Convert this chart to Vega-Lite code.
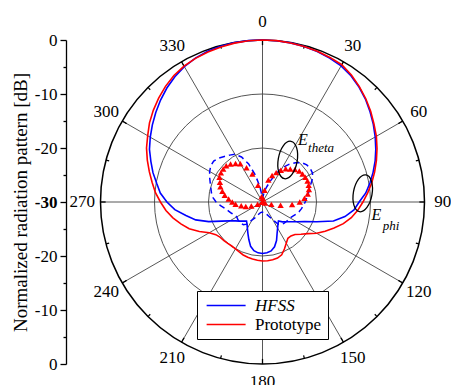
{
  "$schema": "https://vega.github.io/schema/vega-lite/v6.json",
  "width": 385,
  "height": 324,
  "autosize": {"type": "none"},
  "padding": {"left": 66, "top": 40, "right": 0, "bottom": 21},
  "background": "white",
  "config": {"view": {"stroke": null}, "font": "Liberation Serif"},
  "datasets": {
    "circles": [{"r": 10}, {"r": 20}],
    "outer": [{"r": 30}],
    "spokes": [{"angle": 0}, {"angle": 30}, {"angle": 60}, {"angle": 90}, {"angle": 120}, {"angle": 150}, {"angle": 180}, {"angle": 210}, {"angle": 240}, {"angle": 270}, {"angle": 300}, {"angle": 330}],
    "minor": [{"angle": 15}, {"angle": 45}, {"angle": 75}, {"angle": 105}, {"angle": 135}, {"angle": 165}, {"angle": 195}, {"angle": 225}, {"angle": 255}, {"angle": 285}, {"angle": 315}, {"angle": 345}],
    "labels": [{"angle": 0, "label": "0"}, {"angle": 30, "label": "30"}, {"angle": 60, "label": "60"}, {"angle": 90, "label": "90"}, {"angle": 120, "label": "120"}, {"angle": 150, "label": "150"}, {"angle": 180, "label": "180"}, {"angle": 210, "label": "210"}, {"angle": 240, "label": "240"}, {"angle": 270, "label": "270"}, {"angle": 300, "label": "300"}, {"angle": 330, "label": "330"}],
    "hfss_phi": [
      {"angle": 0, "db": 0}, {"angle": 5, "db": -0.02}, {"angle": 10, "db": -0.08}, {"angle": 15, "db": -0.2}, {"angle": 20, "db": -0.35}, {"angle": 25, "db": -0.6}, {"angle": 30, "db": -0.9}, {"angle": 35, "db": -1.45}, {"angle": 40, "db": -2.2}, {"angle": 45, "db": -3.05}, {"angle": 50, "db": -4.0}, {"angle": 55, "db": -4.95}, {"angle": 60, "db": -5.9}, {"angle": 65, "db": -6.85}, {"angle": 70, "db": -7.8}, {"angle": 75, "db": -8.8}, {"angle": 80, "db": -9.8}, {"angle": 85, "db": -10.8}, {"angle": 90, "db": -12.1}, {"angle": 95, "db": -13.0}, {"angle": 100, "db": -14.5}, {"angle": 105, "db": -16.4}, {"angle": 110, "db": -19.3}, {"angle": 115, "db": -21.4}, {"angle": 120, "db": -22.7}, {"angle": 125, "db": -23.6}, {"angle": 130, "db": -24.3}, {"angle": 135, "db": -24.8}, {"angle": 140, "db": -25.4}, {"angle": 145, "db": -25.0}, {"angle": 150, "db": -24.4}, {"angle": 155, "db": -23.6}, {"angle": 160, "db": -22.4}, {"angle": 165, "db": -21.4}, {"angle": 170, "db": -20.8}, {"angle": 175, "db": -20.55}, {"angle": 180, "db": -20.46}, {"angle": 185, "db": -20.55}, {"angle": 190, "db": -20.85}, {"angle": 195, "db": -21.5}, {"angle": 200, "db": -22.6}, {"angle": 205, "db": -23.6}, {"angle": 210, "db": -24.4}, {"angle": 215, "db": -25.0}, {"angle": 220, "db": -25.4}, {"angle": 225, "db": -25.0}, {"angle": 230, "db": -24.5}, {"angle": 235, "db": -23.9}, {"angle": 240, "db": -23.0}, {"angle": 245, "db": -21.6}, {"angle": 250, "db": -19.4}, {"angle": 255, "db": -17.2}, {"angle": 260, "db": -15.6}, {"angle": 265, "db": -13.7}, {"angle": 270, "db": -12.3}, {"angle": 275, "db": -11.0}, {"angle": 280, "db": -10.1}, {"angle": 285, "db": -9.0}, {"angle": 290, "db": -8.0}, {"angle": 295, "db": -6.9}, {"angle": 300, "db": -6.0}, {"angle": 305, "db": -5.1}, {"angle": 310, "db": -4.2}, {"angle": 315, "db": -3.3}, {"angle": 320, "db": -2.45}, {"angle": 325, "db": -1.7}, {"angle": 330, "db": -1.05}, {"angle": 335, "db": -0.6}, {"angle": 340, "db": -0.3}, {"angle": 345, "db": -0.12}, {"angle": 350, "db": -0.03}, {"angle": 355, "db": 0}, {"angle": 360, "db": 0}
    ],
    "proto_phi": [
      {"angle": 0, "db": 0}, {"angle": 5, "db": 0}, {"angle": 10, "db": -0.1}, {"angle": 15, "db": -0.2}, {"angle": 20, "db": -0.31}, {"angle": 25, "db": -0.46}, {"angle": 30, "db": -0.65}, {"angle": 35, "db": -1.3}, {"angle": 40, "db": -2.1}, {"angle": 45, "db": -2.95}, {"angle": 50, "db": -3.85}, {"angle": 55, "db": -4.8}, {"angle": 60, "db": -5.65}, {"angle": 65, "db": -6.6}, {"angle": 70, "db": -7.55}, {"angle": 75, "db": -8.5}, {"angle": 80, "db": -9.45}, {"angle": 85, "db": -10.45}, {"angle": 90, "db": -11.4}, {"angle": 95, "db": -12.3}, {"angle": 100, "db": -13.3}, {"angle": 105, "db": -14.5}, {"angle": 110, "db": -15.9}, {"angle": 115, "db": -17.2}, {"angle": 120, "db": -18.4}, {"angle": 125, "db": -19.8}, {"angle": 130, "db": -20.7}, {"angle": 135, "db": -21.5}, {"angle": 140, "db": -21.8}, {"angle": 145, "db": -21.8}, {"angle": 150, "db": -21.2}, {"angle": 155, "db": -20.4}, {"angle": 160, "db": -19.6}, {"angle": 165, "db": -19.26}, {"angle": 170, "db": -19.13}, {"angle": 175, "db": -19.07}, {"angle": 180, "db": -19.07}, {"angle": 185, "db": -19.17}, {"angle": 190, "db": -19.3}, {"angle": 195, "db": -19.4}, {"angle": 200, "db": -19.56}, {"angle": 205, "db": -19.8}, {"angle": 210, "db": -20.0}, {"angle": 215, "db": -20.05}, {"angle": 220, "db": -20.0}, {"angle": 225, "db": -19.9}, {"angle": 230, "db": -19.8}, {"angle": 235, "db": -19.45}, {"angle": 240, "db": -18.6}, {"angle": 245, "db": -17.1}, {"angle": 250, "db": -15.55}, {"angle": 255, "db": -14.35}, {"angle": 260, "db": -13.15}, {"angle": 265, "db": -12.05}, {"angle": 270, "db": -11.1}, {"angle": 275, "db": -10.1}, {"angle": 280, "db": -9.25}, {"angle": 285, "db": -8.3}, {"angle": 290, "db": -7.3}, {"angle": 295, "db": -6.3}, {"angle": 300, "db": -5.45}, {"angle": 305, "db": -4.45}, {"angle": 310, "db": -3.6}, {"angle": 315, "db": -2.8}, {"angle": 320, "db": -2.05}, {"angle": 325, "db": -1.4}, {"angle": 330, "db": -0.93}, {"angle": 335, "db": -0.65}, {"angle": 340, "db": -0.45}, {"angle": 345, "db": -0.28}, {"angle": 350, "db": -0.13}, {"angle": 355, "db": -0.03}, {"angle": 360, "db": 0}
    ],
    "hfss_theta": [
      {"angle": 0, "db": -29.5}, {"angle": 5, "db": -29}, {"angle": 10, "db": -28}, {"angle": 15, "db": -27.2}, {"angle": 20, "db": -26}, {"angle": 25, "db": -24.3}, {"angle": 30, "db": -22.7}, {"angle": 35, "db": -21.5}, {"angle": 40, "db": -20.5}, {"angle": 45, "db": -19.7}, {"angle": 50, "db": -19.3}, {"angle": 55, "db": -19.2}, {"angle": 60, "db": -19.3}, {"angle": 65, "db": -19.8}, {"angle": 70, "db": -20.5}, {"angle": 75, "db": -21}, {"angle": 80, "db": -21.4}, {"angle": 85, "db": -21.8}, {"angle": 90, "db": -22.1}, {"angle": 95, "db": -22.4}, {"angle": 100, "db": -22.7}, {"angle": 105, "db": -23}, {"angle": 110, "db": -23.4}, {"angle": 115, "db": -23.8}, {"angle": 120, "db": -24.1}, {"angle": 125, "db": -24.2}, {"angle": 130, "db": -24.3}, {"angle": 135, "db": -24.4}, {"angle": 140, "db": -24.6}, {"angle": 145, "db": -25}, {"angle": 150, "db": -26.2}, {"angle": 155, "db": -27}, {"angle": 160, "db": -27.5}, {"angle": 165, "db": -27.8}, {"angle": 170, "db": -28}, {"angle": 175, "db": -28.1}, {"angle": 180, "db": -28.1}, {"angle": 185, "db": -28.1}, {"angle": 190, "db": -28}, {"angle": 195, "db": -27.8}, {"angle": 200, "db": -27.4}, {"angle": 205, "db": -26.8}, {"angle": 210, "db": -26.2}, {"angle": 215, "db": -25}, {"angle": 220, "db": -24.5}, {"angle": 225, "db": -24.4}, {"angle": 230, "db": -24.4}, {"angle": 235, "db": -24.4}, {"angle": 240, "db": -24.5}, {"angle": 245, "db": -24.3}, {"angle": 250, "db": -23.9}, {"angle": 255, "db": -23.5}, {"angle": 260, "db": -23}, {"angle": 265, "db": -22.2}, {"angle": 270, "db": -21.4}, {"angle": 275, "db": -20.8}, {"angle": 280, "db": -20.4}, {"angle": 285, "db": -20.1}, {"angle": 290, "db": -19.7}, {"angle": 295, "db": -19.2}, {"angle": 300, "db": -18.7}, {"angle": 305, "db": -18.3}, {"angle": 310, "db": -18.2}, {"angle": 315, "db": -18.5}, {"angle": 320, "db": -19}, {"angle": 325, "db": -19.4}, {"angle": 330, "db": -19.8}, {"angle": 335, "db": -20.8}, {"angle": 340, "db": -22.5}, {"angle": 345, "db": -24.8}, {"angle": 350, "db": -27}, {"angle": 355, "db": -28.7}, {"angle": 360, "db": -29.5}
    ],
    "proto_theta": [
      {"angle": 0, "db": -30}, {"angle": 5, "db": -29.3}, {"angle": 10, "db": -27.8}, {"angle": 15, "db": -25.8}, {"angle": 20, "db": -24.8}, {"angle": 25, "db": -24.0}, {"angle": 30, "db": -23.2}, {"angle": 35, "db": -22.5}, {"angle": 40, "db": -22.0}, {"angle": 45, "db": -21.5}, {"angle": 50, "db": -21.1}, {"angle": 55, "db": -20.95}, {"angle": 60, "db": -20.85}, {"angle": 65, "db": -20.8}, {"angle": 70, "db": -20.9}, {"angle": 75, "db": -21.1}, {"angle": 80, "db": -21.5}, {"angle": 85, "db": -22.2}, {"angle": 90, "db": -23.1}, {"angle": 95, "db": -24.5}, {"angle": 100, "db": -26.6}, {"angle": 105, "db": -28.3}, {"angle": 110, "db": -29.5}, {"angle": 120, "db": -30}, {"angle": 150, "db": -30}, {"angle": 180, "db": -30}, {"angle": 210, "db": -30}, {"angle": 240, "db": -30}, {"angle": 245, "db": -29.0}, {"angle": 250, "db": -27.8}, {"angle": 255, "db": -26.8}, {"angle": 260, "db": -26.0}, {"angle": 265, "db": -25.0}, {"angle": 270, "db": -24.4}, {"angle": 275, "db": -23.7}, {"angle": 280, "db": -22.9}, {"angle": 285, "db": -22.3}, {"angle": 290, "db": -21.7}, {"angle": 295, "db": -21.3}, {"angle": 300, "db": -20.8}, {"angle": 305, "db": -20.6}, {"angle": 310, "db": -20.5}, {"angle": 315, "db": -20.5}, {"angle": 320, "db": -20.8}, {"angle": 325, "db": -21.3}, {"angle": 330, "db": -21.8}, {"angle": 335, "db": -23.0}, {"angle": 340, "db": -24.5}, {"angle": 345, "db": -26.8}, {"angle": 350, "db": -29.0}, {"angle": 355, "db": -30}
    ]
  },
  "encoding": {
    "x": {"field": "x", "type": "quantitative", "scale": {"domain": [-36.389, 34.907], "nice": false, "zero": false}, "axis": null},
    "y": {
      "field": "y", "type": "quantitative",
      "scale": {"domain": [-30, 30], "nice": false, "zero": false},
      "title": "Normalized radiation pattern [dB]",
      "axis": {
        "values": [-30, -25, -20, -15, -10, -5, 0, 5, 10, 15, 20, 25, 30],
        "labelExpr": "datum.value % 10 === 0 ? '' + (abs(datum.value) - 30) : ''",
        "tickSize": {"condition": {"test": "datum.value % 10 === 0", "value": 6}, "value": 3},
        "labelFontWeight": {"condition": {"test": "datum.value === 0", "value": "bold"}, "value": "normal"},
        "grid": false,
        "labelOverlap": false,
        "labelFlush": false,
        "labelFont": "Liberation Serif, Times New Roman, serif",
        "labelFontSize": 17,
        "labelColor": "black",
        "labelPadding": 3,
        "domainColor": "black",
        "domainWidth": 1.3,
        "tickColor": "black",
        "tickWidth": 1.3,
        "titleFont": "Liberation Serif, Times New Roman, serif",
        "titleFontSize": 19,
        "titleFontWeight": "normal",
        "titleColor": "black",
        "titlePadding": 4
      }
    }
  },
  "layer": [
    {
      "data": {"name": "circles"},
      "transform": [{"calculate": "0", "as": "x"}, {"calculate": "0", "as": "y"}],
      "mark": {"type": "point", "shape": "circle", "filled": false, "stroke": "#555555", "strokeWidth": 1, "opacity": 1},
      "encoding": {
        "size": {"field": "r", "type": "quantitative", "scale": {"type": "pow", "exponent": 2, "domain": [0, 30], "range": [0, 104976]}, "legend": null}
      }
    },
    {
      "data": {"name": "spokes"},
      "transform": [
        {"calculate": "0", "as": "x"},
        {"calculate": "0", "as": "y"},
        {"calculate": "30 * sin(datum.angle * PI / 180)", "as": "x2"},
        {"calculate": "30 * cos(datum.angle * PI / 180)", "as": "y2"}
      ],
      "mark": {"type": "rule", "color": "#444444", "strokeWidth": 0.9},
      "encoding": {"x2": {"field": "x2"}, "y2": {"field": "y2"}}
    },
    {
      "data": {"name": "outer"},
      "transform": [{"calculate": "0", "as": "x"}, {"calculate": "0", "as": "y"}],
      "mark": {"type": "point", "shape": "circle", "filled": false, "stroke": "black", "strokeWidth": 1.5, "opacity": 1},
      "encoding": {
        "size": {"field": "r", "type": "quantitative", "legend": null}
      }
    },
    {
      "data": {"name": "spokes"},
      "transform": [
        {"calculate": "29.05 * sin(datum.angle * PI / 180)", "as": "x"},
        {"calculate": "29.05 * cos(datum.angle * PI / 180)", "as": "y"},
        {"calculate": "30 * sin(datum.angle * PI / 180)", "as": "x2"},
        {"calculate": "30 * cos(datum.angle * PI / 180)", "as": "y2"}
      ],
      "mark": {"type": "rule", "color": "black", "strokeWidth": 1.3},
      "encoding": {"x2": {"field": "x2"}, "y2": {"field": "y2"}}
    },
    {
      "data": {"name": "minor"},
      "transform": [
        {"calculate": "29.4 * sin(datum.angle * PI / 180)", "as": "x"},
        {"calculate": "29.4 * cos(datum.angle * PI / 180)", "as": "y"},
        {"calculate": "30 * sin(datum.angle * PI / 180)", "as": "x2"},
        {"calculate": "30 * cos(datum.angle * PI / 180)", "as": "y2"}
      ],
      "mark": {"type": "rule", "color": "black", "strokeWidth": 1.2},
      "encoding": {"x2": {"field": "x2"}, "y2": {"field": "y2"}}
    },
    {
      "data": {"name": "labels"},
      "transform": [
        {"calculate": "33.4 * sin(datum.angle * PI / 180)", "as": "x"},
        {"calculate": "33.4 * cos(datum.angle * PI / 180)", "as": "y"}
      ],
      "mark": {"type": "text", "font": "Liberation Serif, Times New Roman, serif", "fontSize": 17, "color": "black", "align": "center", "baseline": "middle"},
      "encoding": {"text": {"field": "label"}}
    },
    {
      "data": {"name": "hfss_theta"},
      "transform": [
        {"calculate": "max(0, datum.db + 30) * sin(datum.angle * PI / 180)", "as": "x"},
        {"calculate": "max(0, datum.db + 30) * cos(datum.angle * PI / 180)", "as": "y"}
      ],
      "mark": {"type": "line", "color": "#0000ff", "strokeWidth": 1.5, "strokeDash": [6, 4]},
      "encoding": {"order": {"field": "angle", "type": "quantitative"}}
    },
    {
      "data": {"name": "proto_theta"},
      "transform": [
        {"calculate": "max(0, datum.db + 30) * sin(datum.angle * PI / 180)", "as": "x"},
        {"calculate": "max(0, datum.db + 30) * cos(datum.angle * PI / 180)", "as": "y"}
      ],
      "mark": {"type": "point", "shape": "triangle-up", "filled": true, "color": "#ff0000", "size": 40, "opacity": 1}
    },
    {
      "data": {"name": "hfss_phi"},
      "transform": [
        {"calculate": "max(0, datum.db + 30) * sin(datum.angle * PI / 180)", "as": "x"},
        {"calculate": "max(0, datum.db + 30) * cos(datum.angle * PI / 180)", "as": "y"}
      ],
      "mark": {"type": "line", "strokeWidth": 1.6},
      "encoding": {
        "order": {"field": "angle", "type": "quantitative"},
        "color": {
          "datum": "HFSS", "type": "nominal",
          "scale": {"domain": ["HFSS", "Prototype"], "range": ["#0000ff", "#ff0000"]},
          "legend": {
            "orient": "none", "legendX": 131, "legendY": 251, "title": null, "direction": "vertical",
            "strokeColor": "black", "fillColor": "white", "padding": 6, "rowPadding": 1,
            "symbolType": "M-1,0H7", "symbolSize": 95, "symbolStrokeWidth": 1.6,
            "labelFont": "Liberation Serif, Times New Roman, serif", "labelFontSize": 17, "labelColor": "black", "labelOffset": 35,
            "encode": {"labels": {"update": {"fontStyle": {"signal": "datum.value === 'HFSS' ? 'italic' : 'normal'"}}}}
          }
        }
      }
    },
    {
      "data": {"name": "proto_phi"},
      "transform": [
        {"calculate": "max(0, datum.db + 30) * sin(datum.angle * PI / 180)", "as": "x"},
        {"calculate": "max(0, datum.db + 30) * cos(datum.angle * PI / 180)", "as": "y"}
      ],
      "mark": {"type": "line", "strokeWidth": 1.6},
      "encoding": {
        "order": {"field": "angle", "type": "quantitative"},
        "color": {"datum": "Prototype", "type": "nominal"}
      }
    },
    {
      "data": {"values": [{"note": "E_theta"}]},
      "transform": [{"calculate": "4.67", "as": "x"}, {"calculate": "7.78", "as": "y"}],
      "mark": {"type": "point", "shape": "M0,-1A0.5,1 0 1,1 0,1A0.5,1 0 1,1 0,-1Z", "filled": false, "stroke": "black", "strokeWidth": 1.3, "size": 1444, "angle": 10, "opacity": 1}
    },
    {
      "data": {"values": [{"note": "E_phi"}]},
      "transform": [{"calculate": "18.56", "as": "x"}, {"calculate": "1.61", "as": "y"}],
      "mark": {"type": "point", "shape": "M0,-1A0.5,1 0 1,1 0,1A0.5,1 0 1,1 0,-1Z", "filled": false, "stroke": "black", "strokeWidth": 1.3, "size": 1400, "angle": 10, "opacity": 1}
    },
    {
      "data": {"values": [{"t": "E"}]},
      "transform": [{"calculate": "6.57", "as": "x"}, {"calculate": "10.56", "as": "y"}],
      "mark": {"type": "text", "font": "Liberation Serif, Times New Roman, serif", "fontStyle": "italic", "fontSize": 16, "color": "black", "align": "left", "baseline": "alphabetic"},
      "encoding": {"text": {"field": "t"}}
    },
    {
      "data": {"values": [{"t": "theta"}]},
      "transform": [{"calculate": "8.43", "as": "x"}, {"calculate": "9.35", "as": "y"}],
      "mark": {"type": "text", "font": "Liberation Serif, Times New Roman, serif", "fontStyle": "italic", "fontSize": 13, "color": "black", "align": "left", "baseline": "alphabetic"},
      "encoding": {"text": {"field": "t"}}
    },
    {
      "data": {"values": [{"t": "E"}]},
      "transform": [{"calculate": "20.2", "as": "x"}, {"calculate": "-3.33", "as": "y"}],
      "mark": {"type": "text", "font": "Liberation Serif, Times New Roman, serif", "fontStyle": "italic", "fontSize": 16, "color": "black", "align": "left", "baseline": "alphabetic"},
      "encoding": {"text": {"field": "t"}}
    },
    {
      "data": {"values": [{"t": "phi"}]},
      "transform": [{"calculate": "22.26", "as": "x"}, {"calculate": "-5.19", "as": "y"}],
      "mark": {"type": "text", "font": "Liberation Serif, Times New Roman, serif", "fontStyle": "italic", "fontSize": 13, "color": "black", "align": "left", "baseline": "alphabetic"},
      "encoding": {"text": {"field": "t"}}
    }
  ]
}
